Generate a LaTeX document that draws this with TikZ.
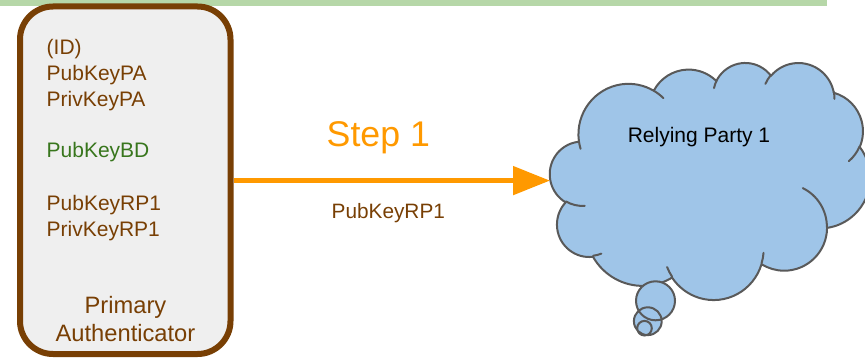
\documentclass[tikz,border=0pt]{standalone}
\usepackage{fontspec}
\setmainfont{Liberation Sans}
\usetikzlibrary{arrows.meta}

\definecolor{boxbrown}{HTML}{783F04}
\definecolor{boxfill}{HTML}{EFEFEF}
\definecolor{keygreen}{HTML}{38761D}
\definecolor{steporange}{HTML}{FF9900}
\definecolor{cloudblue}{HTML}{9FC5E8}
\definecolor{cloudline}{HTML}{595959}
\definecolor{bargreen}{HTML}{B6D7A8}

% visual ellipse angle -> parametric angle (same quadrant)
\pgfmathdeclarefunction{vpar}{3}{%
  \pgfmathparse{atan2((#1)*sin(#3),(#2)*cos(#3))
    - 360*round((atan2((#1)*sin(#3),(#2)*cos(#3)) - (#3))/360)}}

\tikzset{
  % elliptical arc given by radii, visual start angle and sweep
  oarc/.style n args={4}{insert path={
    arc[x radius=#1, y radius=#2,
        start angle={vpar(#1,#2,#3)},
        end angle={vpar(#1,#2,(#3)+(#4))}]}},
  keytext/.style={anchor=base west, inner sep=0pt, text=boxbrown,
                  font=\fontsize{21}{26}\selectfont},
  authbox/.style={draw=boxbrown, fill=boxfill, line width=6pt,
                  rounded corners=33pt, minimum width=210.5pt,
                  minimum height=347.5pt, inner sep=0pt},
  cloudshape/.style={draw=cloudline, fill=cloudblue, line width=2pt,
                     line join=round},
  cloudedge/.style={draw=cloudline, line width=2pt, line cap=round},
  steparrow/.style={draw=steporange, line width=5pt,
                    -{Triangle[length=37pt,width=28pt]}},
}

\begin{document}
\begin{tikzpicture}[x=1pt,y=-1pt]
\useasboundingbox (0,0) rectangle (865,358);

% green bar along the top
\fill[bargreen] (0,0) rectangle (827,5.7);

% primary authenticator
\node[authbox] (pa) at (125.25,180.25) {};
\node[keytext] (kid)   at (46.5,55)  {(ID)};
\node[keytext] (kpbpa) at (46.5,81)  {PubKeyPA};
\node[keytext] (kpvpa) at (46.5,107) {PrivKeyPA};
\node[keytext, text=keygreen] (kpbbd) at (46.5,158) {PubKeyBD};
\node[keytext] (kpbrp) at (46.5,211) {PubKeyRP1};
\node[keytext] (kpvrp) at (46.5,237) {PrivKeyRP1};
\node[anchor=base, inner sep=0pt, text=boxbrown,
      font=\fontsize{23.7}{29}\selectfont] (pal1) at (125.5,313.3) {Primary};
\node[anchor=base, inner sep=0pt, text=boxbrown,
      font=\fontsize{23.7}{29}\selectfont] (pal2) at (125.5,341.7) {Authenticator};

% relying party cloud
\begin{scope}[shift={(550,62.2)}, x=0.740741pt, y=-0.548611pt]
  \path[cloudshape] (39.00,143.70)
    [oarc={67.53}{91.90}{-190.4875}{123.7805}]
    [oarc={53.33}{72.67}{-144.1024}{89.9452}]
    [oarc={43.65}{59.45}{-145.8079}{99.7230}]
    [oarc={48.57}{65.95}{-130.9861}{117.2417}]
    [oarc={53.33}{72.73}{-78.7089}{109.0269}]
    [oarc={67.75}{92.20}{-46.2673}{130.2690}]
    [oarc={57.85}{78.67}{0.6250}{114.0333}]
    [oarc={67.52}{92.15}{22.4516}{115.1726}]
    [oarc={77.20}{105.43}{66.2426}{75.7110}]
    [oarc={43.60}{59.18}{-274.9421}{146.7356}]
    [oarc={43.45}{59.45}{-246.8285}{152.5189}]
    -- cycle;
  \path[cloudedge]
    (46.93,261.77) [oarc={43.45}{59.45}{86.7420}{26.4295}]
    (69.28,348.99) [oarc={43.60}{59.18}{73.6105}{11.4475}]
    (164.78,390.90) [oarc={67.52}{92.15}{137.6242}{14.0811}]
    (288.27,347.51) [oarc={67.52}{92.15}{6.4533}{15.9984}]
    (341.29,229.54) [oarc={57.85}{78.67}{-70.2924}{70.9174}]
    (417.98,153.54) [oarc={53.33}{72.73}{30.3180}{27.7515}]
    (383.24,54.26) [oarc={48.57}{65.95}{-13.7443}{14.8589}]
    (290.78,39.52) [oarc={48.57}{65.95}{-149.1815}{18.1954}]
    (221.41,47.20) [oarc={43.65}{59.45}{-163.4943}{17.6864}]
    (140.00,51.92) [oarc={67.53}{91.90}{-66.7070}{12.3194}]
    (41.27,157.89) [oarc={67.53}{91.90}{157.6544}{11.8582}];
\end{scope}

% thought bubbles below the cloud
\fill[cloudblue] (655.5,300.8) circle[radius=19.5pt]
                 (647.8,321.2) circle[radius=13.9pt]
                 (644.5,328.2) circle[radius=7.3pt];
\draw[cloudedge] (655.5,300.8) circle[radius=19.5pt]
                 (647.8,321.2) circle[radius=13.9pt]
                 (644.5,328.2) circle[radius=7.3pt];

\node[anchor=base, inner sep=0pt, font=\fontsize{21}{26}\selectfont]
  (rp) at (699,143) {Relying Party 1};
\coordinate (rpwest) at (550,180.6);

% step 1 message
\draw[steparrow] (pa.east |- rpwest) -- (rpwest);
\node[anchor=base, inner sep=0pt, text=steporange,
      font=\fontsize{35.7}{43}\selectfont] (step) at (378.3,146.7) {Step 1};
\node[anchor=base, inner sep=0pt, text=boxbrown,
      font=\fontsize{20.8}{26}\selectfont] (msg) at (388.3,219) {PubKeyRP1};
\end{tikzpicture}
\end{document}
